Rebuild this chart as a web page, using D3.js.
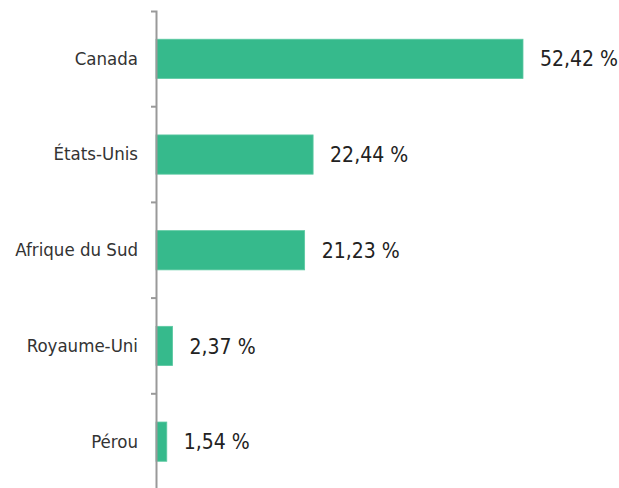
<!DOCTYPE html>
<html>
<head>
<meta charset="utf-8">
<script src="https://cdn.jsdelivr.net/npm/d3@7"></script>
<style>
  body { margin: 0; background: #fff; }
  .cat-label { font-family: "Liberation Sans Narrow", "DejaVu Sans Condensed", sans-serif; font-size: 18.5px; fill: #333; }
  .val-label { font-family: "Liberation Sans Narrow", "DejaVu Sans Condensed", sans-serif; font-size: 21px; fill: #222; }
</style>
</head>
<body>
<div id="chart"></div>
<script>
var countries = ["Canada", "États-Unis", "Afrique du Sud", "Royaume-Uni", "Pérou"];
var shares = [52.42, 22.44, 21.23, 2.37, 1.54];

var margin = {top: 11, right: 96, bottom: 0, left: 156};
var width = 619 - margin.left - margin.right;
var bandTotal = 478.5;

var fr = d3.formatLocale({decimal: ",", thousands: " ", grouping: [3], currency: ["", " €"]});
var fmt = fr.format(".2f");

var data = countries.map(function(c, i){ return {country: c, value: shares[i]}; });

var svg = d3.select("#chart").append("svg")
    .attr("width", 619)
    .attr("height", 488);

var g = svg.append("g")
    .attr("transform", "translate(" + margin.left + "," + margin.top + ")");

var y = d3.scaleBand()
    .domain(countries)
    .range([0, bandTotal])
    .paddingInner(0.59)
    .paddingOuter(0.295);

var x = d3.scaleLinear()
    .domain([0, d3.max(shares)])
    .range([0, width]);

// bars
g.selectAll("rect").data(data).enter().append("rect")
    .attr("x", 0)
    .attr("y", (d) => y(d.country))
    .attr("width", (d) => x(d.value))
    .attr("height", y.bandwidth())
    .attr("fill", "#36ba8c")
    .attr("stroke", "#5cc9a2")
    .attr("stroke-width", 0.8);

// value labels
g.append("g").selectAll("text").data(data).enter().append("text")
    .attr("class", "val-label")
    .attr("x", (d) => x(d.value) + 17)
    .attr("y", (d) => y(d.country) + y.bandwidth() / 2)
    .attr("dy", "0.36em")
    .text((d) => fmt(d.value) + " %");

// axis: domain line + boundary ticks
var axis = g.append("g").attr("class", "axis");
axis.call(d3.axisLeft(y).tickSize(0).tickSizeOuter(5).tickPadding(18))
    .call((a) => a.select(".domain").attr("stroke", "#999").attr("stroke-width", 2))
    .call((a) => a.selectAll(".tick text").attr("class", "cat-label").attr("fill", null).attr("font-family", null).attr("font-size", null));

var bounds = d3.range(1, countries.length).map((i) => y.step() * i);
axis.selectAll(".btick").data(bounds).enter().append("line")
    .attr("class", "btick")
    .attr("x1", -5).attr("x2", 0)
    .attr("y1", (d) => d).attr("y2", (d) => d)
    .attr("stroke", "#999")
    .attr("stroke-width", 2);
</script>
</body>
</html>
